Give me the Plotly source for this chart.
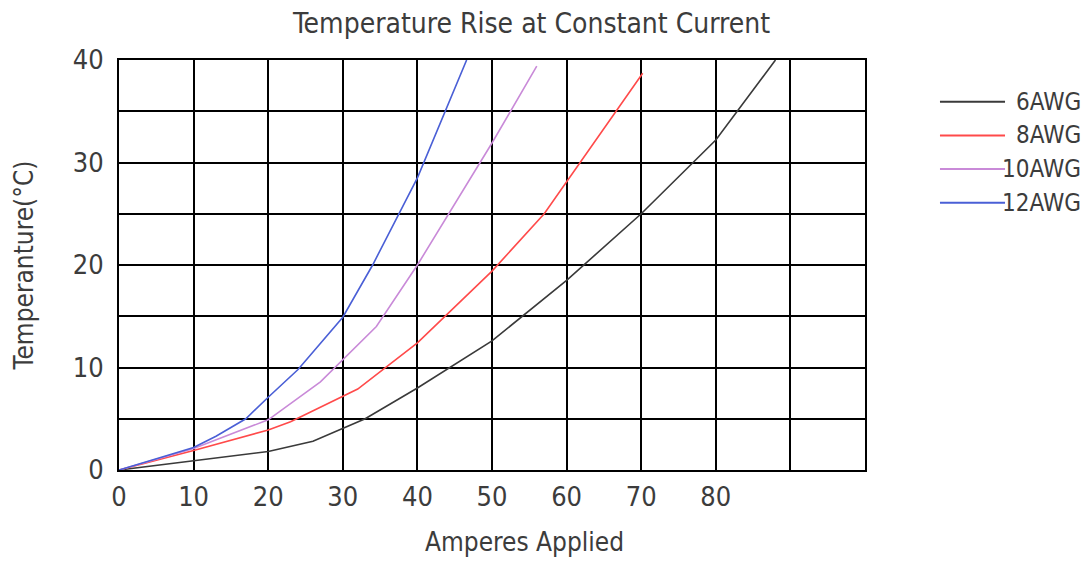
import plotly.graph_objects as go

# Temperature rise (deg C) vs current (A) for each wire gauge
names = ["6AWG", "8AWG", "10AWG", "12AWG"]
colors = ["#3a3a3a", "#ff4a4a", "#c98ad8", "#4a5fd6"]

amps_6 = [0, 10, 20, 26, 33, 40, 50, 60, 70, 80, 88]
temp_6 = [0, 0.9, 1.8, 2.8, 5.0, 8.0, 12.6, 18.5, 25.0, 32.2, 40.0]

amps_8 = [0, 10, 20, 23, 32, 40, 50, 57, 70.2]
temp_8 = [0, 1.9, 3.9, 4.7, 7.9, 12.4, 19.4, 25.0, 38.7]

amps_10 = [0, 10, 20, 27, 34.5, 40, 50, 56]
temp_10 = [0, 2.1, 4.9, 8.6, 14.0, 20.0, 31.9, 39.4]

amps_12 = [0, 10, 13, 17, 20, 24, 30, 34, 40, 46.6]
temp_12 = [0, 2.2, 3.3, 5.0, 7.1, 9.8, 14.9, 20.0, 28.5, 40.0]

x_ticks = [0, 10, 20, 30, 40, 50, 60, 70, 80, 90, 100]
x_labels = ["0", "10", "20", "30", "40", "50", "60", "70", "80", "", ""]
y_ticks = [0, 5, 10, 15, 20, 25, 30, 35, 40]
y_labels = ["0", "", "10", "", "20", "", "30", "", "40"]

series = [
    (amps_6, temp_6),
    (amps_8, temp_8),
    (amps_10, temp_10),
    (amps_12, temp_12),
]

FONT = "Liberation Sans Narrow, DejaVu Sans Condensed, Arial Narrow, sans-serif"
TXT = "#3c3c3c"

fig = go.Figure()
for name, color, (xs, ys) in zip(names, colors, series):
    fig.add_trace(
        go.Scatter(
            x=xs,
            y=ys,
            name=name,
            mode="lines",
            line=dict(color=color, width=1.6),
            showlegend=False,
        )
    )

# hand-made legend: long line sample, right-aligned label
for i, (name, color) in enumerate(zip(names, colors)):
    yy = 0.898 - i * 0.082
    fig.add_shape(
        type="line", xref="paper", yref="paper",
        x0=1.1005, x1=1.1877, y0=yy, y1=yy,
        line=dict(color=color, width=2),
    )
    fig.add_annotation(
        xref="paper", yref="paper", x=1.292, y=yy,
        text=name, showarrow=False, xanchor="right", yanchor="middle",
        font=dict(family=FONT, size=24, color=TXT),
    )

# x title sits a little right of the plot centre in the original
fig.add_annotation(
    xref="paper", yref="paper", x=0.543, y=-0.176,
    text="Amperes Applied", showarrow=False,
    xanchor="center", yanchor="middle",
    font=dict(family=FONT, size=26, color=TXT),
)

axis_common = dict(
    showline=True,
    linecolor="black",
    linewidth=2,
    mirror=True,
    showgrid=True,
    gridcolor="black",
    gridwidth=1.6,
    zeroline=False,
    ticks="",
    tickfont=dict(family=FONT, size=27, color=TXT),
)

# the page body adds an 8px margin, so the figure is 8px smaller each way
fig.update_layout(
    width=1084,
    height=554,
    margin=dict(l=111, r=227, t=52, b=92),
    paper_bgcolor="white",
    plot_bgcolor="white",
    title=dict(
        text="Temperature Rise at Constant Current",
        x=0.483,
        xref="container",
        xanchor="center",
        y=0.99,
        yanchor="top",
        font=dict(family=FONT, size=28, color=TXT),
    ),
    xaxis=dict(
        range=[0, 100],
        tickvals=x_ticks,
        ticktext=x_labels,
        ticklabelstandoff=2,
        **axis_common,
    ),
    yaxis=dict(
        range=[0, 40],
        tickvals=y_ticks,
        ticktext=y_labels,
        ticklabelstandoff=8,
        title=dict(text="Temperanture(°C)", standoff=32,
                   font=dict(family=FONT, size=26, color=TXT)),
        **axis_common,
    ),
)

fig.write_html("out.html")
